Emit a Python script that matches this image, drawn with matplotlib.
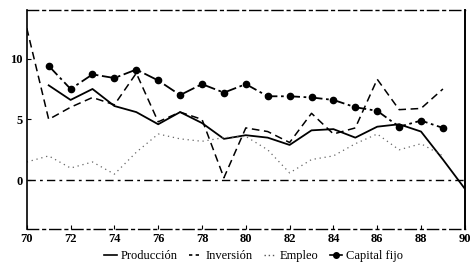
import numpy as np
import matplotlib
matplotlib.use("Agg")
import matplotlib.pyplot as plt
from matplotlib.lines import Line2D

years = list(range(70, 91))
produccion = [np.nan, 7.8, 6.6, 7.5, 6.1, 5.6, 4.6, 5.6, 4.7, 3.4, 3.7, 3.5, 2.9, 4.1, 4.2, 3.5, 4.4, 4.6, 4.0, 1.7, -0.7]
inversion = [12.5, 5.0, 6.0, 6.8, 6.2, 8.8, 4.8, 5.6, 5.0, 0.2, 4.3, 4.0, 3.1, 5.5, 3.8, 4.3, 8.3, 5.8, 5.9, 7.5, np.nan]
empleo = [1.5, 2.0, 1.0, 1.5, 0.5, 2.3, 3.8, 3.4, 3.2, 3.5, 3.6, 2.5, 0.6, 1.7, 2.0, 3.0, 3.8, 2.5, 3.0, 2.0, np.nan]
capital = [np.nan, 9.4, 7.5, 8.7, 8.4, 9.1, 8.2, 7.0, 7.9, 7.2, 7.9, 6.9, 6.9, 6.8, 6.6, 6.0, 5.7, 4.4, 4.9, 4.3, np.nan]

xticks = list(range(70, 91, 2))
yticks = [0, 5, 10]
labels = ["Producción", "Inversión", "Empleo", "Capital fijo"]

plt.rcParams['font.family'] = ['Liberation Serif', 'DejaVu Serif']

fig = plt.figure(figsize=(4.70, 2.68), dpi=100)
ax = fig.add_axes([0.057, 0.146, 0.932, 0.817])

ax.plot(years, produccion, color='black', lw=1.3, ls='-')
ax.plot(years, inversion, color='black', lw=1.1, ls=(0, (5, 3)))
ax.plot(years, empleo, color='#666666', lw=0.9, ls=(0, (1, 3)))
ax.plot(years, capital, color='black', lw=1.3, ls=(0, (7, 2, 1.5, 2)),
        marker='o', ms=4.5, mfc='black', mec='black')

ax.axhline(0, color='black', lw=1.0, ls=(0, (6, 3, 2, 3)))

ax.set_xlim(70, 90)
ax.set_ylim(-4, 14)
ax.set_xticks(xticks)
ax.set_xticklabels([str(t) for t in xticks])
ax.set_yticks(yticks)
ax.set_yticklabels([str(t) for t in yticks])
ax.tick_params(axis='both', direction='in', length=3, width=0.8, labelsize=9, pad=3)
for lab in ax.get_xticklabels() + ax.get_yticklabels():
    lab.set_fontweight('bold')

for side in ['top', 'bottom']:
    ax.spines[side].set_linestyle((0, (8, 3, 2, 3)))
    ax.spines[side].set_linewidth(1.0)
ax.spines['left'].set_linewidth(1.2)
ax.spines['right'].set_linewidth(1.4)

handles = [
    Line2D([], [], color='black', lw=1.2, ls='-'),
    Line2D([], [], color='black', lw=1.2, ls=(0, (2, 2))),
    Line2D([], [], color='#555555', lw=1.0, ls=(0, (1, 2))),
    Line2D([], [], color='black', lw=1.2, ls='-', marker='o', ms=4),
]
fig.legend(handles, labels, loc='center', bbox_to_anchor=(0.54, 0.045), ncol=4,
           frameon=False, fontsize=9, handlelength=1.0, handletextpad=0.3,
           columnspacing=0.9, borderpad=0.1)

fig.savefig('out.png', dpi=100)
